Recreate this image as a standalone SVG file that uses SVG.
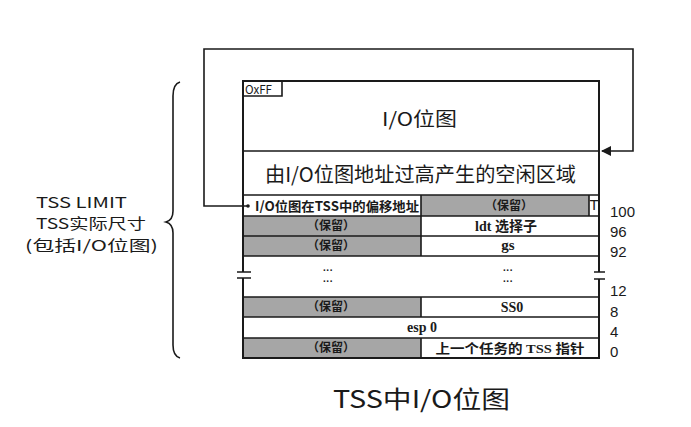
<svg xmlns="http://www.w3.org/2000/svg" width="691" height="427" viewBox="0 0 691 427">
<defs>
<style>
.ln{stroke:#1a1a1a;stroke-width:1.6;fill:none}
.bx{stroke:#1a1a1a;stroke-width:2;fill:none}
.gr{fill:#a6a6a6}
.sans{font-family:"Noto Sans CJK SC","Noto Sans",sans-serif;fill:#1a1a1a}
.serif{font-family:"Liberation Serif","Noto Sans CJK SC",serif;font-weight:bold;fill:#1a1a1a}
.num{font-family:"Liberation Sans",Arial,sans-serif;font-size:15px;fill:#1a1a1a}
.res{font-family:"Noto Sans CJK SC",sans-serif;font-size:12px;font-weight:bold;fill:#1a1a1a}
.dots{font-family:"Liberation Sans",sans-serif;font-size:10px;font-weight:bold;fill:#1a1a1a;letter-spacing:0.5px}
</style>
<marker id="arr" viewBox="0 0 10 10" refX="9" refY="5" markerWidth="10" markerHeight="10" markerUnits="userSpaceOnUse" orient="auto">
<path d="M0,0 L10,5 L0,10 z" fill="#1a1a1a"/>
</marker>
</defs>
<rect width="691" height="427" fill="#ffffff"/>

<g id="connectors">
<path class="ln" d="M248,206 H204 V49 H633 V151 H602" marker-end="url(#arr)"/>
<circle cx="248" cy="206" r="1.8" fill="#1a1a1a"/>
<path class="ln" d="M180,82 Q173,84 173,96 L173,211 Q173,220 166,222 Q173,224 173,233 L173,345 Q173,356 180,358"/>
</g>

<g id="tss-label">
<text class="sans" x="36" y="208" font-size="15" textLength="91" lengthAdjust="spacingAndGlyphs">TSS LIMIT</text>
<text class="sans" x="36" y="229" font-size="15" textLength="110" lengthAdjust="spacingAndGlyphs">TSS实际尺寸</text>
<text class="sans" x="25" y="251" font-size="15" textLength="133" lengthAdjust="spacingAndGlyphs">(包括I/O位图)</text>
</g>

<g id="tss-box">
<rect class="gr" x="421" y="195" width="168" height="21"/>
<rect class="gr" x="242" y="216" width="179" height="20"/>
<rect class="gr" x="242" y="236" width="179" height="20"/>
<rect class="gr" x="242" y="297" width="179" height="20"/>
<rect class="gr" x="242" y="338" width="179" height="20"/>
<path class="bx" d="M243,272 V81 H599 V272"/>
<path class="bx" d="M243,278 V358 H599 V279"/>
<path class="ln" d="M237,272 H251 M237,278 H251 M594,272 H605 M594,279 H605"/>
<path class="ln" d="M243,151 H599 M243,195 H599 M243,216 H599 M243,236 H599 M243,256 H599 M243,297 H599 M243,317 H599 M243,338 H599"/>
<path class="ln" d="M421,195 V256 M421,297 V317 M421,338 V358 M589,195 V216"/>
<path class="ln" d="M243,96 H282 V81"/>
</g>

<g id="io-bitmap">
<text class="sans" x="245" y="94" font-size="12" textLength="27" lengthAdjust="spacingAndGlyphs">OxFF</text>
<text class="sans" x="382" y="126" font-size="19" textLength="75" lengthAdjust="spacingAndGlyphs">I/O位图</text>
</g>

<g id="free-area">
<text class="sans" x="265" y="182" font-size="20" textLength="311" lengthAdjust="spacingAndGlyphs">由I/O位图地址过高产生的空闲区域</text>
</g>

<g id="row-100">
<text class="sans" x="255" y="211" font-size="13" font-weight="bold" textLength="164" lengthAdjust="spacingAndGlyphs">I/O位图在TSS中的偏移地址</text>
<text class="res" x="509" y="210" text-anchor="middle">（保留）</text>
<text class="num" x="594" y="210" font-size="8" text-anchor="middle">T</text>
<text class="num" x="610" y="217">100</text>
</g>

<g id="row-96">
<text class="res" x="331" y="230" text-anchor="middle">（保留）</text>
<text class="serif" x="506" y="231" font-size="14" text-anchor="middle">ldt 选择子</text>
<text class="num" x="610" y="237">96</text>
</g>

<g id="row-92">
<text class="res" x="331" y="250" text-anchor="middle">（保留）</text>
<text class="serif" x="508" y="250" font-size="15" text-anchor="middle">gs</text>
<text class="num" x="610" y="257">92</text>
</g>

<g id="row-gap">
<text class="dots" x="328" y="271" text-anchor="middle">...</text>
<text class="dots" x="328" y="282" text-anchor="middle">...</text>
<text class="dots" x="508" y="271" text-anchor="middle">...</text>
<text class="dots" x="508" y="282" text-anchor="middle">...</text>
<text class="num" x="610" y="296">12</text>
</g>

<g id="row-8">
<text class="res" x="331" y="311" text-anchor="middle">（保留）</text>
<text class="serif" x="512" y="312" font-size="14" text-anchor="middle">SS0</text>
<text class="num" x="610" y="317">8</text>
</g>

<g id="row-4">
<text class="serif" x="422" y="332" font-size="14" text-anchor="middle">esp 0</text>
<text class="num" x="610" y="337">4</text>
</g>

<g id="row-0">
<text class="res" x="331" y="352" text-anchor="middle">（保留）</text>
<text class="serif" x="510" y="353" font-size="13" text-anchor="middle" textLength="149" lengthAdjust="spacingAndGlyphs">上一个任务的 TSS 指针</text>
<text class="num" x="610" y="357">0</text>
</g>

<g id="title">
<text class="sans" x="333" y="408" font-size="24" textLength="177" lengthAdjust="spacingAndGlyphs">TSS中I/O位图</text>
</g>
</svg>
